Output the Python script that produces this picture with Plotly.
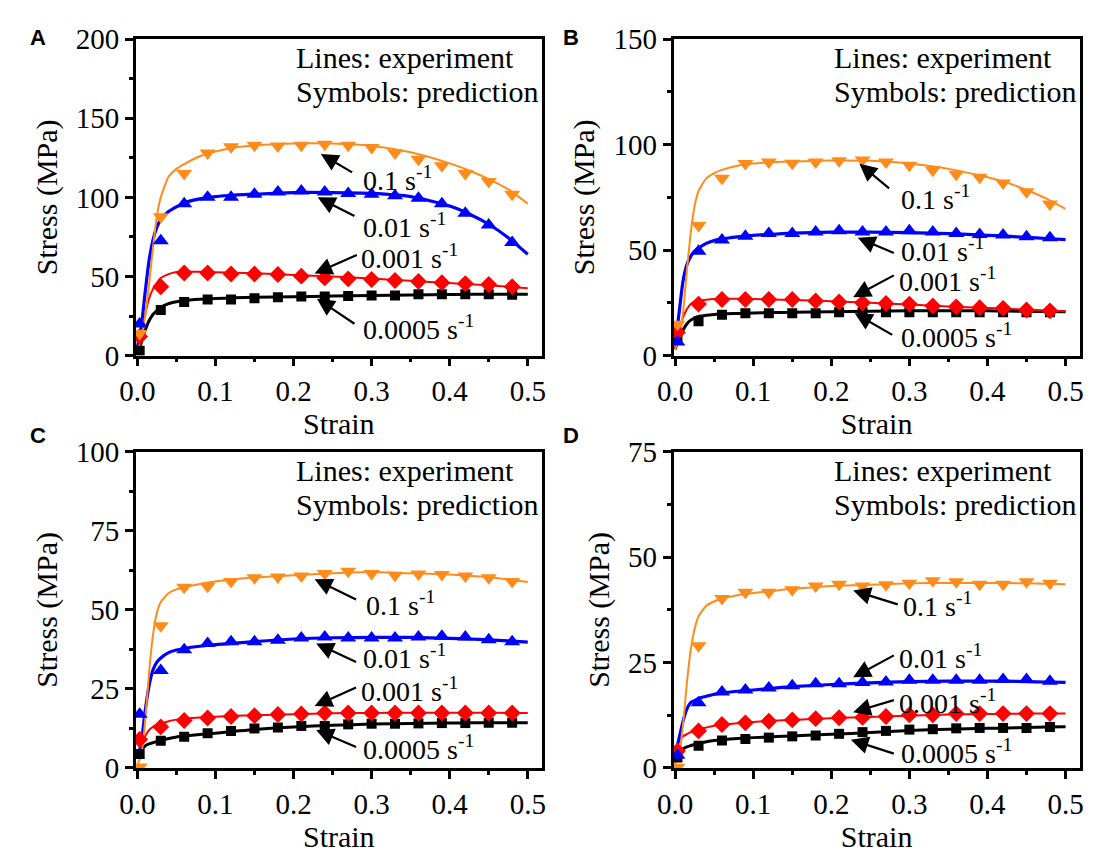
import plotly.graph_objects as go

# ---------------- data ----------------
strain_line = [0, 0.005, 0.01, 0.015, 0.02, 0.025, 0.03, 0.04, 0.05, 0.06, 0.08, 0.1,
               0.125, 0.15, 0.2, 0.25, 0.3, 0.35, 0.4, 0.425, 0.45, 0.475, 0.5]
strain_sym = [0.003, 0.03, 0.06, 0.09, 0.12, 0.15, 0.18, 0.21, 0.24, 0.27, 0.30,
              0.33, 0.36, 0.39, 0.42, 0.45, 0.48]
rates = ["0.1", "0.01", "0.001", "0.0005"]

# Panel A
A_exp_0_1 = [3, 10, 25, 45, 68, 88, 100, 113, 118, 121, 126, 129, 131.5, 132.7, 134, 134, 132.5, 128.5, 121.5, 117, 111.5, 105, 96]
A_exp_0_01 = [5, 18, 40, 60, 73, 81, 86, 91, 94, 96.5, 99, 100.5, 101.5, 102, 103, 103, 102.5, 100.5, 94.5, 89.5, 83, 74.5, 64]
A_exp_0_001 = [3, 14, 26, 36, 42, 46, 49, 51.5, 52.8, 53.2, 53, 52.7, 52.3, 52, 51, 50, 48.7, 47.3, 45.8, 45.1, 44.3, 43.5, 42.5]
A_exp_0_0005 = [2, 8, 16, 22, 26, 28.5, 30.5, 32.8, 34, 34.8, 35.6, 36.1, 36.5, 36.8, 37.2, 37.6, 38, 38.3, 38.6, 38.7, 38.8, 38.8, 38.8]
A_pre_0_1 = [14, 87.7, 115, 128, 132, 133, 132.5, 133, 133.5, 133, 131.5, 128, 124, 120, 115, 110, 102]
A_pre_0_01 = [20, 72.5, 96, 100, 100, 102, 103.4, 104, 103.4, 102.5, 102, 101, 99.5, 96, 90, 82.6, 71.5]
A_pre_0_001 = [12, 43.5, 52.2, 52.2, 51.6, 51.6, 51.2, 50.2, 49.1, 48.5, 48.1, 47.5, 46.9, 46.1, 45.5, 44.9, 43.5]
A_pre_0_0005 = [3, 28.8, 33.9, 35.5, 35.5, 36.3, 36.8, 37.4, 37.4, 37.6, 38, 38, 38.8, 38.8, 38.8, 38.8, 38.4]

# Panel B
B_exp_0_1 = [3, 8, 20, 40, 58, 71, 78, 84, 86.5, 88, 90, 91, 91.6, 92, 92.5, 92.3, 91, 88.5, 84.5, 82, 78.5, 74.5, 69.5]
B_exp_0_01 = [5, 20, 35, 43, 47, 49.5, 51, 53.2, 54.5, 55.3, 56.3, 57, 57.5, 58, 58.5, 58.5, 58.3, 57.8, 57, 56.6, 56, 55.5, 55]
B_exp_0_001 = [3, 12, 18, 22, 24.5, 25.5, 26, 26.5, 26.8, 26.9, 26.9, 26.8, 26.6, 26.3, 25.8, 25, 24.2, 23.3, 22.6, 22.2, 21.8, 21.4, 21]
B_exp_0_0005 = [3, 8, 12, 15, 16.8, 17.8, 18.5, 19.1, 19.5, 19.8, 20, 20.2, 20.4, 20.5, 20.8, 21, 21.2, 21.2, 21.2, 21.1, 21, 20.9, 20.8]
B_pre_0_1 = [14.8, 61.7, 84, 91, 91.7, 91.2, 91.7, 92.4, 92.7, 91.7, 90.2, 87.9, 86, 84.5, 81.8, 77.7, 71.9]
B_pre_0_01 = [6.4, 49.5, 54.8, 56.6, 57.9, 57.9, 58.6, 59.2, 58.6, 58.6, 59.2, 58.6, 57.9, 57.4, 57.1, 56.3, 55.9]
B_pre_0_001 = [11, 24.4, 26.6, 26.6, 26.6, 26.6, 25.9, 25.4, 25, 24.7, 24.4, 23.5, 23.1, 22.7, 22.4, 21.6, 21.2]
B_pre_0_0005 = [8.7, 16.3, 19.3, 20.1, 20.1, 20.1, 20.1, 20.6, 20.6, 20.6, 20.6, 20.6, 20.6, 20.6, 20.6, 20.6, 20.6]

# Panel C
C_exp_0_1 = [1, 4, 15, 30, 42, 49, 52.5, 55.3, 56.5, 57.2, 58.2, 59, 59.7, 60.3, 61, 61.6, 62, 61.6, 61.2, 60.8, 60.3, 59.6, 58.8]
C_exp_0_01 = [3, 8, 18, 26, 31, 33.5, 34.8, 36.5, 37.3, 37.8, 38.5, 39, 39.5, 40, 40.8, 41.2, 41.3, 41.3, 41, 40.8, 40.5, 40.2, 39.8]
C_exp_0_001 = [3, 7, 10, 12, 13, 13.6, 14, 14.8, 15.3, 15.6, 16, 16.2, 16.5, 16.7, 17, 17.3, 17.4, 17.5, 17.5, 17.5, 17.5, 17.4, 17.4]
C_exp_0_0005 = [3, 5.5, 7, 7.6, 8, 8.4, 8.8, 9.3, 9.8, 10.1, 10.6, 11, 11.6, 12.2, 13, 13.5, 13.9, 14.1, 14.2, 14.3, 14.3, 14.3, 14.3]
C_pre_0_1 = [0.3, 45, 57.2, 57.5, 59, 60.2, 60.4, 60.7, 61.5, 62.2, 61.5, 61, 61.4, 61.2, 60.7, 60.2, 59]
C_pre_0_01 = [17, 30.8, 37.4, 39.4, 39.9, 39.9, 40.4, 41.1, 41.4, 41.1, 41.1, 41.1, 41.4, 41.7, 41.4, 40.6, 39.9]
C_pre_0_001 = [9, 13, 15, 15.8, 16.3, 16.5, 16.9, 17.1, 17.4, 17.4, 17.4, 17.4, 17.4, 17.4, 17.4, 17.4, 17.4]
C_pre_0_0005 = [4.4, 8.6, 9.9, 11, 11.7, 12.5, 12.8, 13.3, 13.3, 13.8, 14, 14, 14.1, 14.2, 14.2, 14.3, 14.3]

# Panel D
D_exp_0_1 = [1, 3, 10, 20, 28, 33, 36, 38.5, 39.5, 40.2, 41, 41.5, 42, 42.5, 43.2, 43.5, 43.8, 43.9, 43.9, 43.9, 43.8, 43.7, 43.6]
D_exp_0_01 = [3, 7, 11, 14, 15.5, 16, 16.5, 17, 17.5, 17.8, 18.2, 18.5, 18.9, 19.3, 19.8, 20.2, 20.5, 20.6, 20.6, 20.6, 20.5, 20.4, 20.3]
D_exp_0_001 = [4, 6.5, 7.5, 8, 8.5, 8.9, 9.2, 9.6, 10, 10.2, 10.6, 10.9, 11.2, 11.4, 11.8, 12.1, 12.4, 12.7, 12.8, 12.85, 12.9, 12.9, 12.9]
D_exp_0_0005 = [2.5, 3.5, 4.5, 5, 5.3, 5.6, 5.8, 6.2, 6.5, 6.7, 7, 7.2, 7.4, 7.6, 8, 8.4, 8.9, 9.2, 9.4, 9.5, 9.6, 9.7, 9.8]
D_pre_0_1 = [0.2, 29, 40.2, 41.7, 41.7, 42.3, 43.2, 43.6, 43.2, 43.5, 43.8, 44.4, 44.2, 43.6, 43.6, 44.2, 43.8]
D_pre_0_01 = [3, 15.5, 18, 18.5, 19, 19.5, 20, 20, 20.3, 20.4, 20.8, 20.8, 20.8, 20.8, 21, 21, 20.6]
D_pre_0_001 = [4, 8.8, 10.3, 10.7, 11.1, 11.4, 11.7, 11.9, 12, 12.2, 12.6, 12.6, 12.9, 12.9, 12.9, 12.9, 12.9]
D_pre_0_0005 = [2.5, 5.3, 6.5, 6.9, 7.2, 7.5, 7.7, 8.1, 8.5, 8.8, 9.1, 9.2, 9.4, 9.5, 9.5, 9.5, 9.7]

y_max = {"A": 200, "B": 150, "C": 100, "D": 75}
y_dtick = {"A": 50, "B": 50, "C": 25, "D": 25}

panels = {
    "A": ([A_exp_0_1, A_exp_0_01, A_exp_0_001, A_exp_0_0005],
          [A_pre_0_1, A_pre_0_01, A_pre_0_001, A_pre_0_0005]),
    "B": ([B_exp_0_1, B_exp_0_01, B_exp_0_001, B_exp_0_0005],
          [B_pre_0_1, B_pre_0_01, B_pre_0_001, B_pre_0_0005]),
    "C": ([C_exp_0_1, C_exp_0_01, C_exp_0_001, C_exp_0_0005],
          [C_pre_0_1, C_pre_0_01, C_pre_0_001, C_pre_0_0005]),
    "D": ([D_exp_0_1, D_exp_0_01, D_exp_0_001, D_exp_0_0005],
          [D_pre_0_1, D_pre_0_01, D_pre_0_001, D_pre_0_0005]),
}

# arrow (head_x, head_y, tail_x, tail_y, text_x, text_y) per rate, per panel
arrows = {
    "A": [(0.235, 127.4, 0.277, 115.2, 0.286, 112.0),
          (0.231, 100.0, 0.280, 87.8, 0.286, 82.3),
          (0.227, 51.8, 0.283, 64.0, 0.284, 62.8),
          (0.230, 36.0, 0.280, 19.5, 0.286, 17.7)],
    "B": [(0.236, 90.9, 0.276, 78.7, 0.287, 74.9),
          (0.234, 55.9, 0.282, 48.3, 0.287, 50.2),
          (0.228, 27.7, 0.282, 38.4, 0.284, 36.1),
          (0.230, 20.1, 0.280, 9.4, 0.287, 9.4)],
    "C": [(0.227, 59.7, 0.282, 53.1, 0.290, 52.1),
          (0.229, 39.4, 0.282, 33.3, 0.286, 35.2),
          (0.227, 19.6, 0.282, 25.7, 0.284, 24.9),
          (0.229, 12.0, 0.282, 6.4, 0.286, 6.4)],
    "D": [(0.228, 42.1, 0.287, 38.7, 0.289, 38.7),
          (0.228, 21.5, 0.282, 26.9, 0.284, 26.5),
          (0.228, 13.2, 0.282, 16.2, 0.284, 15.8),
          (0.225, 6.7, 0.282, 3.3, 0.287, 4.0)],
}

# ---------------- styles ----------------
colors = ["#FF8C1A", "#0000FF", "#FF0000", "#000000"]
line_w = [2, 3.2, 2, 3]
symbols = ["triangle-down", "triangle-up", "diamond", "square"]
msize = [14, 14, 13, 10]
SERIF = "Liberation Serif, Times New Roman, serif"
W, H = 1094, 861

# pixel boxes: (left, right, top, bottom)
boxes = {"A": (121.1, 535.1, 24.0, 352.7), "B": (669.4, 1083.4, 24.0, 352.7),
         "C": (121.1, 535.1, 452.7, 781.0), "D": (669.4, 1083.4, 452.7, 781.0)}
letter_pos = {"A": (21, 22.5), "B": (565, 22.5), "C": (21, 436), "D": (565, 436)}

fig = go.Figure()
annotations = []

for i, key in enumerate(["A", "B", "C", "D"]):
    xa = "x" if i == 0 else f"x{i+1}"
    ya = "y" if i == 0 else f"y{i+1}"
    exps, pres = panels[key]
    for j in [3, 2, 1, 0]:
        fig.add_trace(go.Scatter(x=strain_line, y=exps[j], mode="lines",
                                 line=dict(color=colors[j], width=line_w[j], shape="spline", smoothing=0.6),
                                 xaxis=xa, yaxis=ya, showlegend=False, hoverinfo="skip"))
    for j in [3, 2, 1, 0]:
        fig.add_trace(go.Scatter(x=strain_sym, y=pres[j], mode="markers",
                                 marker=dict(color=colors[j], symbol=symbols[j], size=msize[j], line=dict(width=0)),
                                 xaxis=xa, yaxis=ya, showlegend=False))

    l, r, t, b = boxes[key]
    axis_common = dict(showline=True, linewidth=2.5, linecolor="black", mirror=True,
                       ticks="outside", ticklen=8, tickwidth=2.5, tickcolor="black",
                       showgrid=False, zeroline=False,
                       tickfont=dict(family=SERIF, size=29, color="black"))
    xname = "xaxis" if i == 0 else f"xaxis{i+1}"
    yname = "yaxis" if i == 0 else f"yaxis{i+1}"
    fig.update_layout({
        xname: dict(axis_common, domain=[l / W, r / W], range=[-0.002, 0.518],
                    anchor=ya, tick0=0, dtick=0.1, tickformat=".1f",
                    minor=dict(dtick=0.05, ticklen=4, tickwidth=2.5, ticks="outside", tickcolor="black"),
                    title=dict(text="Strain", font=dict(family=SERIF, size=30, color="black"), standoff=2)),
        yname: dict(axis_common, domain=[1 - b / H, 1 - t / H], range=[0, y_max[key]],
                    anchor=xa, tick0=0, dtick=y_dtick[key],
                    minor=dict(dtick=y_dtick[key] / 2, ticklen=4, tickwidth=2.5, ticks="outside", tickcolor="black"),
                    title=dict(text="Stress (MPa)", font=dict(family=SERIF, size=30, color="black"), standoff=10)),
    })

    # header texts
    for txt, yd in [("Lines: experiment", 0.941), ("Symbols: prediction", 0.835)]:
        annotations.append(dict(text=txt, x=0.201, y=yd, xref=xa, yref=f"{ya} domain",
                                xanchor="left", yanchor="middle", showarrow=False,
                                font=dict(family=SERIF, size=30, color="black")))
    # rate arrows and labels
    for j, (hx, hy, tx, ty, lx, ly) in enumerate(arrows[key]):
        annotations.append(dict(text="", x=hx, y=hy, ax=tx, ay=ty, xref=xa, yref=ya,
                                axref=xa, ayref=ya, showarrow=True, arrowhead=2,
                                arrowsize=1.6, arrowwidth=2.2, arrowcolor="black", standoff=0))
        annotations.append(dict(text=f"{rates[j]} s<sup>-1</sup>", x=lx, y=ly, xref=xa, yref=ya,
                                xanchor="left", yanchor="middle", showarrow=False,
                                font=dict(family=SERIF, size=28, color="black")))
    px, py = letter_pos[key]
    annotations.append(dict(text=f"<b>{key}</b>", x=px / W, y=1 - py / H, xref="paper", yref="paper",
                            xanchor="center", yanchor="middle", showarrow=False,
                            font=dict(family="Liberation Sans, Arial, sans-serif", size=22, color="black")))

fig.update_layout(width=W, height=H, margin=dict(l=0, r=0, t=0, b=0),
                  paper_bgcolor="white", plot_bgcolor="white",
                  annotations=annotations, showlegend=False)

fig.write_html("out.html")
